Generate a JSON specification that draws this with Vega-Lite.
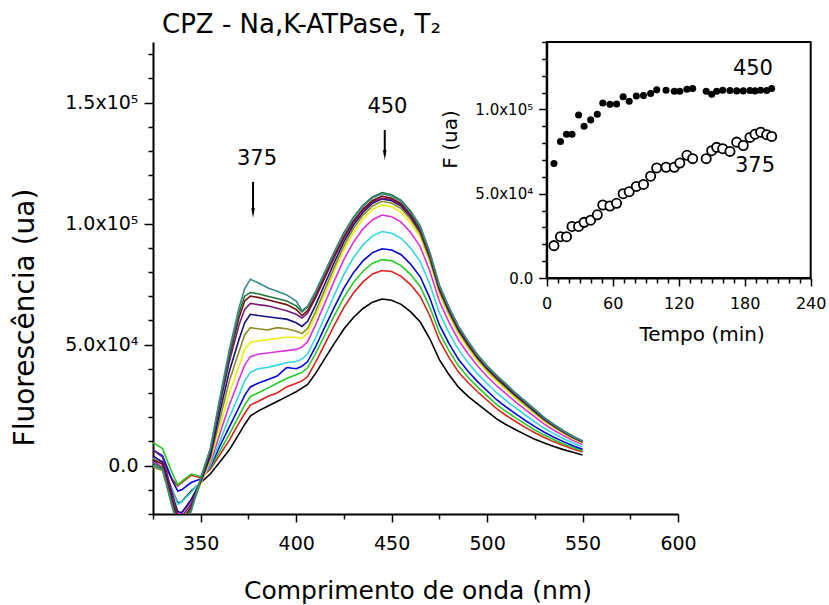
{
"$schema": "https://vega.github.io/schema/vega-lite/v6.json",
"width": 525, "height": 472,
"autosize": {"type": "none"},
"padding": {"left": 153, "top": 42, "right": 151, "bottom": 91},
"background": "white",
"config": {"view": {"stroke": null}, "font": "DejaVu Sans",
  "axis": {"grid": false, "domainColor": "black", "domainWidth": 2, "tickColor": "black", "tickWidth": 1.5, "labelColor": "black", "titleColor": "black", "labelFont": "DejaVu Sans", "titleFont": "DejaVu Sans", "titleFontWeight": "normal", "labelOverlap": false, "labelFlush": false}},
"title": {"text": "CPZ - Na,K-ATPase, T\u2082", "anchor": "start", "frame": "group", "dx": 9, "offset": -24, "fontSize": 26, "fontWeight": "normal", "baseline": "alphabetic", "color": "black", "font": "DejaVu Sans"},
"resolve": {"scale": {"x": "independent", "y": "independent"}, "axis": {"x": "independent", "y": "independent"}},
"layer": [
 {
  "encoding": {
   "x": {"field": "w", "type": "quantitative", "scale": {"domain": [325, 600], "nice": false, "zero": false},
     "axis": {"orient": "bottom", "values": [325,350,375,400,425,450,475,500,525,550,575,600], "labelExpr": "datum.value % 50 === 0 ? datum.label : ''", "tickSize": {"condition": {"test": "datum.value % 50 === 0", "value": 8}, "value": 5}, "labelFontSize": 19, "labelPadding": 12, "title": "Comprimento de onda (nm)", "titleFontSize": 25, "titleX": 264.5, "titleY": 84, "titleBaseline": "alphabetic", "titleAlign": "center"}},
   "y": {"field": "f", "type": "quantitative", "scale": {"domain": [-20000, 175000], "nice": false, "zero": false},
     "axis": {"orient": "left", "values": [-20000,-10000,0,10000,20000,30000,40000,50000,60000,70000,80000,90000,100000,110000,120000,130000,140000,150000,160000,170000], "labelExpr": "datum.value === 0 ? '0.0' : datum.value === 50000 ? '5.0x10\u2074' : datum.value === 100000 ? '1.0x10\u2075' : datum.value === 150000 ? '1.5x10\u2075' : ''", "tickSize": {"condition": {"test": "datum.value % 50000 === 0", "value": 9}, "value": 5}, "labelFontSize": 19, "labelPadding": 6, "title": "Fluorescência (ua)", "titleFontSize": 28, "titleAngle": 270, "titleX": -119.7, "titleY": 275, "titleBaseline": "alphabetic", "titleAlign": "center"}}
  },
  "layer": [
   {"data": {"values": [
{"s":"k","w":325,"f":2000},{"s":"k","w":330,"f":-1000},{"s":"k","w":335,"f":-10000},{"s":"k","w":338,"f":-15500},{"s":"k","w":340,"f":-15000},{"s":"k","w":345,"f":-10500},{"s":"k","w":350,"f":-7000},{"s":"k","w":355,"f":-3500},{"s":"k","w":360,"f":1500},{"s":"k","w":365,"f":6500},{"s":"k","w":370,"f":13000},{"s":"k","w":373,"f":17000},{"s":"k","w":376,"f":20500},{"s":"k","w":380,"f":22500},{"s":"k","w":385,"f":24500},{"s":"k","w":390,"f":26500},{"s":"k","w":395,"f":28500},{"s":"k","w":400,"f":30500},{"s":"k","w":403,"f":32000},{"s":"k","w":406,"f":33500},{"s":"k","w":410,"f":37900},{"s":"k","w":415,"f":44200},{"s":"k","w":420,"f":50500},{"s":"k","w":425,"f":56400},{"s":"k","w":430,"f":61200},{"s":"k","w":435,"f":64900},{"s":"k","w":440,"f":67500},{"s":"k","w":445,"f":68800},{"s":"k","w":450,"f":68300},{"s":"k","w":455,"f":66600},{"s":"k","w":460,"f":63500},{"s":"k","w":465,"f":59300},{"s":"k","w":470,"f":52400},{"s":"k","w":475,"f":43800},{"s":"k","w":480,"f":37600},{"s":"k","w":485,"f":32400},{"s":"k","w":490,"f":28600},{"s":"k","w":495,"f":25500},{"s":"k","w":500,"f":22400},{"s":"k","w":505,"f":19300},{"s":"k","w":510,"f":16900},{"s":"k","w":515,"f":14800},{"s":"k","w":520,"f":12800},{"s":"k","w":525,"f":10900},{"s":"k","w":530,"f":9300},{"s":"k","w":535,"f":7900},{"s":"k","w":540,"f":6600},{"s":"k","w":545,"f":5500},{"s":"k","w":550,"f":4400},
{"s":"r","w":325,"f":3000},{"s":"r","w":330,"f":1000},{"s":"r","w":335,"f":-5500},{"s":"r","w":338,"f":-8500},{"s":"r","w":340,"f":-7000},{"s":"r","w":345,"f":-4000},{"s":"r","w":350,"f":-5000},{"s":"r","w":355,"f":-1500},{"s":"r","w":360,"f":4500},{"s":"r","w":365,"f":10500},{"s":"r","w":370,"f":17500},{"s":"r","w":373,"f":21500},{"s":"r","w":376,"f":25000},{"s":"r","w":380,"f":26500},{"s":"r","w":385,"f":28500},{"s":"r","w":390,"f":30000},{"s":"r","w":395,"f":32500},{"s":"r","w":400,"f":34000},{"s":"r","w":403,"f":35000},{"s":"r","w":406,"f":36800},{"s":"r","w":410,"f":42400},{"s":"r","w":415,"f":50200},{"s":"r","w":420,"f":58000},{"s":"r","w":425,"f":65400},{"s":"r","w":430,"f":71300},{"s":"r","w":435,"f":75900},{"s":"r","w":440,"f":79200},{"s":"r","w":445,"f":80600},{"s":"r","w":450,"f":80200},{"s":"r","w":455,"f":78200},{"s":"r","w":460,"f":74700},{"s":"r","w":465,"f":69900},{"s":"r","w":470,"f":61900},{"s":"r","w":475,"f":51800},{"s":"r","w":480,"f":44700},{"s":"r","w":485,"f":38700},{"s":"r","w":490,"f":34300},{"s":"r","w":495,"f":30500},{"s":"r","w":500,"f":27000},{"s":"r","w":505,"f":23500},{"s":"r","w":510,"f":20700},{"s":"r","w":515,"f":18200},{"s":"r","w":520,"f":15800},{"s":"r","w":525,"f":13600},{"s":"r","w":530,"f":11600},{"s":"r","w":535,"f":9800},{"s":"r","w":540,"f":8300},{"s":"r","w":545,"f":6900},{"s":"r","w":550,"f":5600},
{"s":"g","w":325,"f":9500},{"s":"g","w":330,"f":7000},{"s":"g","w":335,"f":-3000},{"s":"g","w":338,"f":-8000},{"s":"g","w":340,"f":-6500},{"s":"g","w":345,"f":-3500},{"s":"g","w":350,"f":-4500},{"s":"g","w":355,"f":-1000},{"s":"g","w":360,"f":6000},{"s":"g","w":365,"f":13000},{"s":"g","w":370,"f":20500},{"s":"g","w":373,"f":25000},{"s":"g","w":376,"f":28500},{"s":"g","w":380,"f":30000},{"s":"g","w":385,"f":32000},{"s":"g","w":390,"f":34000},{"s":"g","w":395,"f":36000},{"s":"g","w":400,"f":37500},{"s":"g","w":403,"f":38500},{"s":"g","w":406,"f":40400},{"s":"g","w":410,"f":46000},{"s":"g","w":415,"f":54000},{"s":"g","w":420,"f":62000},{"s":"g","w":425,"f":69500},{"s":"g","w":430,"f":75600},{"s":"g","w":435,"f":80300},{"s":"g","w":440,"f":83600},{"s":"g","w":445,"f":85100},{"s":"g","w":450,"f":84600},{"s":"g","w":455,"f":82600},{"s":"g","w":460,"f":78900},{"s":"g","w":465,"f":73900},{"s":"g","w":470,"f":65500},{"s":"g","w":475,"f":54900},{"s":"g","w":480,"f":47500},{"s":"g","w":485,"f":41200},{"s":"g","w":490,"f":36500},{"s":"g","w":495,"f":32500},{"s":"g","w":500,"f":28800},{"s":"g","w":505,"f":25200},{"s":"g","w":510,"f":22300},{"s":"g","w":515,"f":19700},{"s":"g","w":520,"f":17100},{"s":"g","w":525,"f":14700},{"s":"g","w":530,"f":12600},{"s":"g","w":535,"f":10700},{"s":"g","w":540,"f":9000},{"s":"g","w":545,"f":7500},{"s":"g","w":550,"f":6200},
{"s":"b","w":325,"f":6500},{"s":"b","w":330,"f":4000},{"s":"b","w":335,"f":-6000},{"s":"b","w":338,"f":-10500},{"s":"b","w":340,"f":-10000},{"s":"b","w":345,"f":-7000},{"s":"b","w":350,"f":-5500},{"s":"b","w":355,"f":-500},{"s":"b","w":360,"f":8000},{"s":"b","w":365,"f":16000},{"s":"b","w":370,"f":24000},{"s":"b","w":373,"f":29000},{"s":"b","w":376,"f":32500},{"s":"b","w":380,"f":34000},{"s":"b","w":385,"f":35500},{"s":"b","w":390,"f":37000},{"s":"b","w":395,"f":40500},{"s":"b","w":400,"f":40000},{"s":"b","w":403,"f":41000},{"s":"b","w":406,"f":43000},{"s":"b","w":410,"f":48800},{"s":"b","w":415,"f":57200},{"s":"b","w":420,"f":65500},{"s":"b","w":425,"f":73300},{"s":"b","w":430,"f":79700},{"s":"b","w":435,"f":84600},{"s":"b","w":440,"f":88000},{"s":"b","w":445,"f":89600},{"s":"b","w":450,"f":89100},{"s":"b","w":455,"f":87100},{"s":"b","w":460,"f":83200},{"s":"b","w":465,"f":78000},{"s":"b","w":470,"f":69200},{"s":"b","w":475,"f":58100},{"s":"b","w":480,"f":50500},{"s":"b","w":485,"f":43900},{"s":"b","w":490,"f":39000},{"s":"b","w":495,"f":34700},{"s":"b","w":500,"f":30900},{"s":"b","w":505,"f":27200},{"s":"b","w":510,"f":24200},{"s":"b","w":515,"f":21400},{"s":"b","w":520,"f":18700},{"s":"b","w":525,"f":16100},{"s":"b","w":530,"f":13800},{"s":"b","w":535,"f":11700},{"s":"b","w":540,"f":9900},{"s":"b","w":545,"f":8200},{"s":"b","w":550,"f":6800},
{"s":"c","w":325,"f":3000},{"s":"c","w":330,"f":500},{"s":"c","w":335,"f":-10000},{"s":"c","w":338,"f":-16000},{"s":"c","w":340,"f":-15000},{"s":"c","w":345,"f":-11000},{"s":"c","w":350,"f":-6500},{"s":"c","w":355,"f":0},{"s":"c","w":360,"f":10000},{"s":"c","w":365,"f":20000},{"s":"c","w":370,"f":29000},{"s":"c","w":373,"f":35000},{"s":"c","w":376,"f":38500},{"s":"c","w":380,"f":40000},{"s":"c","w":385,"f":40500},{"s":"c","w":390,"f":41500},{"s":"c","w":395,"f":42500},{"s":"c","w":400,"f":43000},{"s":"c","w":403,"f":44000},{"s":"c","w":406,"f":46100},{"s":"c","w":410,"f":52500},{"s":"c","w":415,"f":61500},{"s":"c","w":420,"f":70500},{"s":"c","w":425,"f":79000},{"s":"c","w":430,"f":85900},{"s":"c","w":435,"f":91200},{"s":"c","w":440,"f":94900},{"s":"c","w":445,"f":96700},{"s":"c","w":450,"f":96000},{"s":"c","w":455,"f":93900},{"s":"c","w":460,"f":89800},{"s":"c","w":465,"f":84300},{"s":"c","w":470,"f":74900},{"s":"c","w":475,"f":63100},{"s":"c","w":480,"f":54900},{"s":"c","w":485,"f":47900},{"s":"c","w":490,"f":42600},{"s":"c","w":495,"f":37900},{"s":"c","w":500,"f":33900},{"s":"c","w":505,"f":30100},{"s":"c","w":510,"f":26800},{"s":"c","w":515,"f":23800},{"s":"c","w":520,"f":20900},{"s":"c","w":525,"f":18100},{"s":"c","w":530,"f":15400},{"s":"c","w":535,"f":13200},{"s":"c","w":540,"f":11100},{"s":"c","w":545,"f":9300},{"s":"c","w":550,"f":7700},
{"s":"m","w":325,"f":1500},{"s":"m","w":330,"f":-500},{"s":"m","w":335,"f":-13000},{"s":"m","w":338,"f":-20000},{"s":"m","w":340,"f":-19500},{"s":"m","w":345,"f":-15000},{"s":"m","w":350,"f":-7000},{"s":"m","w":355,"f":1000},{"s":"m","w":360,"f":13000},{"s":"m","w":365,"f":25000},{"s":"m","w":370,"f":35500},{"s":"m","w":373,"f":41500},{"s":"m","w":376,"f":45000},{"s":"m","w":380,"f":46000},{"s":"m","w":385,"f":46500},{"s":"m","w":390,"f":47000},{"s":"m","w":395,"f":47500},{"s":"m","w":400,"f":48000},{"s":"m","w":403,"f":49000},{"s":"m","w":406,"f":51200},{"s":"m","w":410,"f":57800},{"s":"m","w":415,"f":67100},{"s":"m","w":420,"f":76400},{"s":"m","w":425,"f":85200},{"s":"m","w":430,"f":92300},{"s":"m","w":435,"f":97800},{"s":"m","w":440,"f":101600},{"s":"m","w":445,"f":103500},{"s":"m","w":450,"f":102800},{"s":"m","w":455,"f":100600},{"s":"m","w":460,"f":96300},{"s":"m","w":465,"f":90400},{"s":"m","w":470,"f":80400},{"s":"m","w":475,"f":67900},{"s":"m","w":480,"f":59300},{"s":"m","w":485,"f":51900},{"s":"m","w":490,"f":46200},{"s":"m","w":495,"f":41100},{"s":"m","w":500,"f":36800},{"s":"m","w":505,"f":33000},{"s":"m","w":510,"f":29600},{"s":"m","w":515,"f":26200},{"s":"m","w":520,"f":23100},{"s":"m","w":525,"f":20100},{"s":"m","w":530,"f":17100},{"s":"m","w":535,"f":14600},{"s":"m","w":540,"f":12400},{"s":"m","w":545,"f":10400},{"s":"m","w":550,"f":8700},
{"s":"y","w":325,"f":0},{"s":"y","w":330,"f":-1500},{"s":"y","w":335,"f":-15000},{"s":"y","w":338,"f":-22000},{"s":"y","w":340,"f":-22000},{"s":"y","w":345,"f":-17000},{"s":"y","w":350,"f":-7500},{"s":"y","w":355,"f":2000},{"s":"y","w":360,"f":16000},{"s":"y","w":365,"f":30000},{"s":"y","w":370,"f":41000},{"s":"y","w":373,"f":48000},{"s":"y","w":376,"f":51000},{"s":"y","w":380,"f":51500},{"s":"y","w":385,"f":52000},{"s":"y","w":390,"f":52500},{"s":"y","w":395,"f":53000},{"s":"y","w":400,"f":53000},{"s":"y","w":403,"f":52500},{"s":"y","w":406,"f":54700},{"s":"y","w":410,"f":61400},{"s":"y","w":415,"f":70800},{"s":"y","w":420,"f":80300},{"s":"y","w":425,"f":89100},{"s":"y","w":430,"f":96300},{"s":"y","w":435,"f":101900},{"s":"y","w":440,"f":105800},{"s":"y","w":445,"f":107700},{"s":"y","w":450,"f":106900},{"s":"y","w":455,"f":104700},{"s":"y","w":460,"f":100300},{"s":"y","w":465,"f":94300},{"s":"y","w":470,"f":83900},{"s":"y","w":475,"f":70900},{"s":"y","w":480,"f":62100},{"s":"y","w":485,"f":54400},{"s":"y","w":490,"f":48500},{"s":"y","w":495,"f":43200},{"s":"y","w":500,"f":38800},{"s":"y","w":505,"f":34800},{"s":"y","w":510,"f":31300},{"s":"y","w":515,"f":27800},{"s":"y","w":520,"f":24600},{"s":"y","w":525,"f":21400},{"s":"y","w":530,"f":18300},{"s":"y","w":535,"f":15600},{"s":"y","w":540,"f":13200},{"s":"y","w":545,"f":11100},{"s":"y","w":550,"f":9300},
{"s":"o","w":325,"f":-500},{"s":"o","w":330,"f":-2000},{"s":"o","w":335,"f":-16000},{"s":"o","w":338,"f":-23000},{"s":"o","w":340,"f":-23000},{"s":"o","w":345,"f":-18000},{"s":"o","w":350,"f":-7000},{"s":"o","w":355,"f":3000},{"s":"o","w":360,"f":19000},{"s":"o","w":365,"f":35000},{"s":"o","w":370,"f":47000},{"s":"o","w":373,"f":54000},{"s":"o","w":376,"f":57000},{"s":"o","w":380,"f":56500},{"s":"o","w":385,"f":56000},{"s":"o","w":390,"f":57000},{"s":"o","w":395,"f":56500},{"s":"o","w":400,"f":55500},{"s":"o","w":403,"f":54500},{"s":"o","w":406,"f":56700},{"s":"o","w":410,"f":63300},{"s":"o","w":415,"f":72700},{"s":"o","w":420,"f":82000},{"s":"o","w":425,"f":90800},{"s":"o","w":430,"f":98000},{"s":"o","w":435,"f":103500},{"s":"o","w":440,"f":107300},{"s":"o","w":445,"f":109200},{"s":"o","w":450,"f":108400},{"s":"o","w":455,"f":106200},{"s":"o","w":460,"f":101700},{"s":"o","w":465,"f":95600},{"s":"o","w":470,"f":85200},{"s":"o","w":475,"f":72000},{"s":"o","w":480,"f":63100},{"s":"o","w":485,"f":55400},{"s":"o","w":490,"f":49400},{"s":"o","w":495,"f":44000},{"s":"o","w":500,"f":39500},{"s":"o","w":505,"f":35600},{"s":"o","w":510,"f":32100},{"s":"o","w":515,"f":28500},{"s":"o","w":520,"f":25200},{"s":"o","w":525,"f":21900},{"s":"o","w":530,"f":18700},{"s":"o","w":535,"f":16000},{"s":"o","w":540,"f":13600},{"s":"o","w":545,"f":11400},{"s":"o","w":550,"f":9600},
{"s":"n","w":325,"f":4000},{"s":"n","w":330,"f":1500},{"s":"n","w":335,"f":-12000},{"s":"n","w":338,"f":-19000},{"s":"n","w":340,"f":-19500},{"s":"n","w":345,"f":-14000},{"s":"n","w":350,"f":-6500},{"s":"n","w":355,"f":4000},{"s":"n","w":360,"f":22000},{"s":"n","w":365,"f":39000},{"s":"n","w":370,"f":52000},{"s":"n","w":373,"f":59000},{"s":"n","w":376,"f":62500},{"s":"n","w":380,"f":62000},{"s":"n","w":385,"f":61500},{"s":"n","w":390,"f":61000},{"s":"n","w":395,"f":60500},{"s":"n","w":400,"f":59000},{"s":"n","w":403,"f":57500},{"s":"n","w":406,"f":59600},{"s":"n","w":410,"f":66000},{"s":"n","w":415,"f":75000},{"s":"n","w":420,"f":84000},{"s":"n","w":425,"f":92500},{"s":"n","w":430,"f":99400},{"s":"n","w":435,"f":104700},{"s":"n","w":440,"f":108400},{"s":"n","w":445,"f":110200},{"s":"n","w":450,"f":109400},{"s":"n","w":455,"f":107200},{"s":"n","w":460,"f":102700},{"s":"n","w":465,"f":96600},{"s":"n","w":470,"f":86100},{"s":"n","w":475,"f":72800},{"s":"n","w":480,"f":63900},{"s":"n","w":485,"f":56100},{"s":"n","w":490,"f":50100},{"s":"n","w":495,"f":44600},{"s":"n","w":500,"f":40100},{"s":"n","w":505,"f":36200},{"s":"n","w":510,"f":32600},{"s":"n","w":515,"f":29000},{"s":"n","w":520,"f":25700},{"s":"n","w":525,"f":22400},{"s":"n","w":530,"f":19100},{"s":"n","w":535,"f":16400},{"s":"n","w":540,"f":13900},{"s":"n","w":545,"f":11700},{"s":"n","w":550,"f":9800},
{"s":"p","w":325,"f":6500},{"s":"p","w":330,"f":3500},{"s":"p","w":335,"f":-11000},{"s":"p","w":338,"f":-21000},{"s":"p","w":340,"f":-21000},{"s":"p","w":345,"f":-16000},{"s":"p","w":350,"f":-6000},{"s":"p","w":355,"f":5500},{"s":"p","w":360,"f":25000},{"s":"p","w":365,"f":43000},{"s":"p","w":370,"f":58000},{"s":"p","w":373,"f":64500},{"s":"p","w":376,"f":67000},{"s":"p","w":380,"f":66500},{"s":"p","w":385,"f":66000},{"s":"p","w":390,"f":65000},{"s":"p","w":395,"f":64000},{"s":"p","w":400,"f":62500},{"s":"p","w":403,"f":61000},{"s":"p","w":406,"f":63000},{"s":"p","w":410,"f":69000},{"s":"p","w":415,"f":77500},{"s":"p","w":420,"f":86000},{"s":"p","w":425,"f":94000},{"s":"p","w":430,"f":100500},{"s":"p","w":435,"f":105500},{"s":"p","w":440,"f":109000},{"s":"p","w":445,"f":110400},{"s":"p","w":450,"f":109900},{"s":"p","w":455,"f":107700},{"s":"p","w":460,"f":103200},{"s":"p","w":465,"f":97100},{"s":"p","w":470,"f":86600},{"s":"p","w":475,"f":73300},{"s":"p","w":480,"f":64400},{"s":"p","w":485,"f":56600},{"s":"p","w":490,"f":50500},{"s":"p","w":495,"f":45000},{"s":"p","w":500,"f":40500},{"s":"p","w":505,"f":36600},{"s":"p","w":510,"f":33100},{"s":"p","w":515,"f":29400},{"s":"p","w":520,"f":26100},{"s":"p","w":525,"f":22800},{"s":"p","w":530,"f":19400},{"s":"p","w":535,"f":16700},{"s":"p","w":540,"f":14100},{"s":"p","w":545,"f":11900},{"s":"p","w":550,"f":10000},
{"s":"w","w":325,"f":2500},{"s":"w","w":330,"f":500},{"s":"w","w":335,"f":-14000},{"s":"w","w":338,"f":-22000},{"s":"w","w":340,"f":-23000},{"s":"w","w":345,"f":-17000},{"s":"w","w":350,"f":-6000},{"s":"w","w":355,"f":6000},{"s":"w","w":360,"f":26000},{"s":"w","w":365,"f":45000},{"s":"w","w":370,"f":61000},{"s":"w","w":373,"f":68000},{"s":"w","w":376,"f":70000},{"s":"w","w":380,"f":69500},{"s":"w","w":385,"f":68500},{"s":"w","w":390,"f":67500},{"s":"w","w":395,"f":66500},{"s":"w","w":400,"f":64500},{"s":"w","w":403,"f":62000},{"s":"w","w":406,"f":64000},{"s":"w","w":410,"f":69900},{"s":"w","w":415,"f":78300},{"s":"w","w":420,"f":86800},{"s":"w","w":425,"f":94700},{"s":"w","w":430,"f":101100},{"s":"w","w":435,"f":106100},{"s":"w","w":440,"f":109500},{"s":"w","w":445,"f":111300},{"s":"w","w":450,"f":110400},{"s":"w","w":455,"f":108200},{"s":"w","w":460,"f":103700},{"s":"w","w":465,"f":97600},{"s":"w","w":470,"f":87000},{"s":"w","w":475,"f":73600},{"s":"w","w":480,"f":64700},{"s":"w","w":485,"f":56900},{"s":"w","w":490,"f":50700},{"s":"w","w":495,"f":45200},{"s":"w","w":500,"f":40700},{"s":"w","w":505,"f":36800},{"s":"w","w":510,"f":33200},{"s":"w","w":515,"f":29500},{"s":"w","w":520,"f":26200},{"s":"w","w":525,"f":22900},{"s":"w","w":530,"f":19500},{"s":"w","w":535,"f":16700},{"s":"w","w":540,"f":14200},{"s":"w","w":545,"f":11900},{"s":"w","w":550,"f":10000},
{"s":"dg","w":325,"f":1000},{"s":"dg","w":330,"f":-1000},{"s":"dg","w":335,"f":-16000},{"s":"dg","w":338,"f":-24000},{"s":"dg","w":340,"f":-24000},{"s":"dg","w":345,"f":-18000},{"s":"dg","w":350,"f":-5500},{"s":"dg","w":355,"f":6500},{"s":"dg","w":360,"f":27000},{"s":"dg","w":365,"f":46000},{"s":"dg","w":370,"f":63000},{"s":"dg","w":373,"f":70000},{"s":"dg","w":376,"f":71500},{"s":"dg","w":380,"f":71000},{"s":"dg","w":385,"f":70000},{"s":"dg","w":390,"f":69000},{"s":"dg","w":395,"f":68000},{"s":"dg","w":400,"f":66000},{"s":"dg","w":403,"f":63500},{"s":"dg","w":406,"f":65500},{"s":"dg","w":410,"f":71400},{"s":"dg","w":415,"f":79800},{"s":"dg","w":420,"f":88300},{"s":"dg","w":425,"f":96200},{"s":"dg","w":430,"f":102600},{"s":"dg","w":435,"f":107600},{"s":"dg","w":440,"f":111000},{"s":"dg","w":445,"f":112800},{"s":"dg","w":450,"f":111900},{"s":"dg","w":455,"f":109600},{"s":"dg","w":460,"f":105100},{"s":"dg","w":465,"f":98900},{"s":"dg","w":470,"f":88100},{"s":"dg","w":475,"f":74600},{"s":"dg","w":480,"f":65500},{"s":"dg","w":485,"f":57600},{"s":"dg","w":490,"f":51400},{"s":"dg","w":495,"f":45800},{"s":"dg","w":500,"f":41200},{"s":"dg","w":505,"f":37300},{"s":"dg","w":510,"f":33700},{"s":"dg","w":515,"f":29900},{"s":"dg","w":520,"f":26600},{"s":"dg","w":525,"f":23200},{"s":"dg","w":530,"f":19800},{"s":"dg","w":535,"f":17000},{"s":"dg","w":540,"f":14400},{"s":"dg","w":545,"f":12100},{"s":"dg","w":550,"f":10200},
{"s":"t","w":325,"f":0},{"s":"t","w":330,"f":-1500},{"s":"t","w":335,"f":-17000},{"s":"t","w":338,"f":-25000},{"s":"t","w":340,"f":-25000},{"s":"t","w":345,"f":-19000},{"s":"t","w":350,"f":-5000},{"s":"t","w":355,"f":7000},{"s":"t","w":360,"f":28000},{"s":"t","w":365,"f":48000},{"s":"t","w":370,"f":65000},{"s":"t","w":373,"f":73000},{"s":"t","w":376,"f":77000},{"s":"t","w":380,"f":75500},{"s":"t","w":385,"f":73500},{"s":"t","w":390,"f":72000},{"s":"t","w":395,"f":70500},{"s":"t","w":400,"f":68000},{"s":"t","w":403,"f":64000},{"s":"t","w":406,"f":65900},{"s":"t","w":410,"f":71800},{"s":"t","w":415,"f":80000},{"s":"t","w":420,"f":88300},{"s":"t","w":425,"f":96000},{"s":"t","w":430,"f":102300},{"s":"t","w":435,"f":107200},{"s":"t","w":440,"f":110600},{"s":"t","w":445,"f":112300},{"s":"t","w":450,"f":111400},{"s":"t","w":455,"f":109100},{"s":"t","w":460,"f":104600},{"s":"t","w":465,"f":98400},{"s":"t","w":470,"f":87800},{"s":"t","w":475,"f":74300},{"s":"t","w":480,"f":65300},{"s":"t","w":485,"f":57400},{"s":"t","w":490,"f":51200},{"s":"t","w":495,"f":45600},{"s":"t","w":500,"f":41100},{"s":"t","w":505,"f":37100},{"s":"t","w":510,"f":33500},{"s":"t","w":515,"f":29800},{"s":"t","w":520,"f":26400},{"s":"t","w":525,"f":23100},{"s":"t","w":530,"f":19700},{"s":"t","w":535,"f":16900},{"s":"t","w":540,"f":14300},{"s":"t","w":545,"f":12000},{"s":"t","w":550,"f":10100}
    ]},
    "mark": {"type": "line", "clip": true, "strokeWidth": 1.6},
    "encoding": {
      "color": {"field": "s", "type": "nominal", "legend": null, "scale": {"domain": ["k","r","g","b","c","m","y","o","n","p","w","dg","t"], "range": ["#000000","#E0201B","#22CC22","#0000E0","#30D8E0","#E030E0","#EEEE10","#8C8C20","#101080","#7A1A7A","#7A1010","#1E7A3C","#3A8A8A"]}},
      "strokeWidth": {"field": "s", "type": "nominal", "legend": null, "scale": {"domain": ["k","r","g","b","c","m","y","o","n","p","w","dg","t"], "range": [1.6,1.6,1.6,1.6,1.6,1.6,1.6,1.6,1.6,1.6,1.6,2.6,1.6]}}
    }},
   {"data": {"values": [{"w": 377.4, "f": 117200, "f2": 104400}, {"w": 446.4, "f": 138650, "f2": 128300}]},
    "mark": {"type": "rule", "color": "black", "strokeWidth": 2},
    "encoding": {"y2": {"field": "f2"}}},
   {"data": {"values": [{"w": 377.4, "f": 104400}, {"w": 446.4, "f": 128300}]},
    "mark": {"type": "point", "shape": "M-0.35,-1L0.35,-1L0,1Z", "filled": true, "color": "black", "size": 100, "opacity": 1}},
   {"data": {"values": [{"w": 379.5, "f": 124200, "label": "375"}, {"w": 447.8, "f": 145700, "label": "450"}]},
    "mark": {"type": "text", "fontSize": 21, "baseline": "alphabetic", "align": "center", "color": "black"},
    "encoding": {"text": {"field": "label"}}}
  ]
 },
 {
  "encoding": {
   "x": {"field": "t", "type": "quantitative", "scale": {"domain": [0, 240], "range": [393.7, 657.7], "nice": false, "zero": false},
     "axis": {"orient": "bottom", "offset": -236, "values": [0,10,20,30,40,50,60,70,80,90,100,110,120,130,140,150,160,170,180,190,200,210,220,230,240], "labelExpr": "datum.value % 60 === 0 ? datum.label : ''", "tickSize": {"condition": {"test": "datum.value % 60 === 0", "value": 8}, "value": 5}, "labelFontSize": 16, "labelPadding": 9, "title": "Tempo (min)", "titleFontSize": 20, "titleX": 548.6, "titleY": 62, "titleBaseline": "alphabetic", "titleAlign": "center"}},
   "y": {"field": "F", "type": "quantitative", "scale": {"domain": [0, 140000], "range": [236, 0], "nice": false, "zero": false},
     "axis": {"orient": "left", "offset": -393.7, "values": [0,10000,20000,30000,40000,50000,60000,70000,80000,90000,100000,110000,120000,130000,140000], "labelExpr": "datum.value === 0 ? '0.0' : datum.value === 50000 ? '5.0x10\u2074' : datum.value === 100000 ? '1.0x10\u2075' : ''", "tickSize": {"condition": {"test": "datum.value % 50000 === 0", "value": 8}, "value": 5}, "labelFontSize": 15, "labelPadding": 6, "title": "F (ua)", "titleFontSize": 20, "titleAngle": 270, "titleX": -90.7, "titleY": 97, "titleBaseline": "alphabetic", "titleAlign": "center"}}
  },
  "layer": [
   {"data": {"values": [{"t": 0, "t2": 240, "F": 0, "F2": 140000}]},
    "mark": {"type": "rect", "filled": false, "color": "black", "strokeWidth": 2},
    "encoding": {"x2": {"field": "t2"}, "y2": {"field": "F2"}}},
   {"data": {"values": [
{"t":6.6,"F":67900},{"t":12.5,"F":81000},{"t":18,"F":85300},{"t":23,"F":85300},{"t":29,"F":96700},{"t":34,"F":90000},{"t":40,"F":93800},{"t":46,"F":97100},{"t":51,"F":103800},{"t":57.5,"F":103000},{"t":63.5,"F":103200},{"t":69.5,"F":107500},{"t":75,"F":104900},{"t":81.5,"F":108000},{"t":88,"F":108200},{"t":94.5,"F":109400},{"t":100,"F":111600},{"t":108.5,"F":111400},{"t":116,"F":110800},{"t":121,"F":110800},{"t":127.5,"F":112000},{"t":132.7,"F":112400},{"t":145,"F":110800},{"t":150,"F":109000},{"t":154.5,"F":110800},{"t":160,"F":111400},{"t":166.6,"F":111200},{"t":172.7,"F":111000},{"t":178.7,"F":111000},{"t":184.8,"F":111200},{"t":189.4,"F":111000},{"t":194.5,"F":111400},{"t":200,"F":111200},{"t":204.5,"F":112400}
    ]},
    "mark": {"type": "point", "shape": "circle", "filled": true, "color": "black", "size": 50, "opacity": 1}},
   {"data": {"values": [
{"t":6.6,"F":19200},{"t":12.5,"F":24500},{"t":18,"F":24500},{"t":23,"F":30600},{"t":29,"F":30600},{"t":34,"F":33000},{"t":40,"F":34300},{"t":46,"F":37500},{"t":51,"F":43300},{"t":57.5,"F":42700},{"t":63.5,"F":44300},{"t":69.5,"F":50000},{"t":75,"F":51200},{"t":81.5,"F":54300},{"t":88,"F":55500},{"t":94.5,"F":60400},{"t":100,"F":65300},{"t":108.5,"F":65700},{"t":116,"F":65700},{"t":121,"F":68200},{"t":127.5,"F":72800},{"t":132.7,"F":70800},{"t":145,"F":70800},{"t":150,"F":75500},{"t":154.5,"F":77500},{"t":160,"F":76700},{"t":166.6,"F":75100},{"t":172.7,"F":80600},{"t":178.7,"F":78600},{"t":184.8,"F":83400},{"t":189.4,"F":85300},{"t":194.5,"F":86500},{"t":200,"F":85000},{"t":204.5,"F":84000}
    ]},
    "mark": {"type": "point", "shape": "circle", "filled": false, "stroke": "black", "fill": "white", "fillOpacity": 1, "strokeWidth": 1.8, "size": 85, "opacity": 1}},
   {"data": {"values": [{"t": 187.5, "F": 120400, "label": "450"}, {"t": 189.4, "F": 62900, "label": "375"}]},
    "mark": {"type": "text", "fontSize": 21, "baseline": "alphabetic", "align": "center", "color": "black"},
    "encoding": {"text": {"field": "label"}}}
  ]
 }
]
}
